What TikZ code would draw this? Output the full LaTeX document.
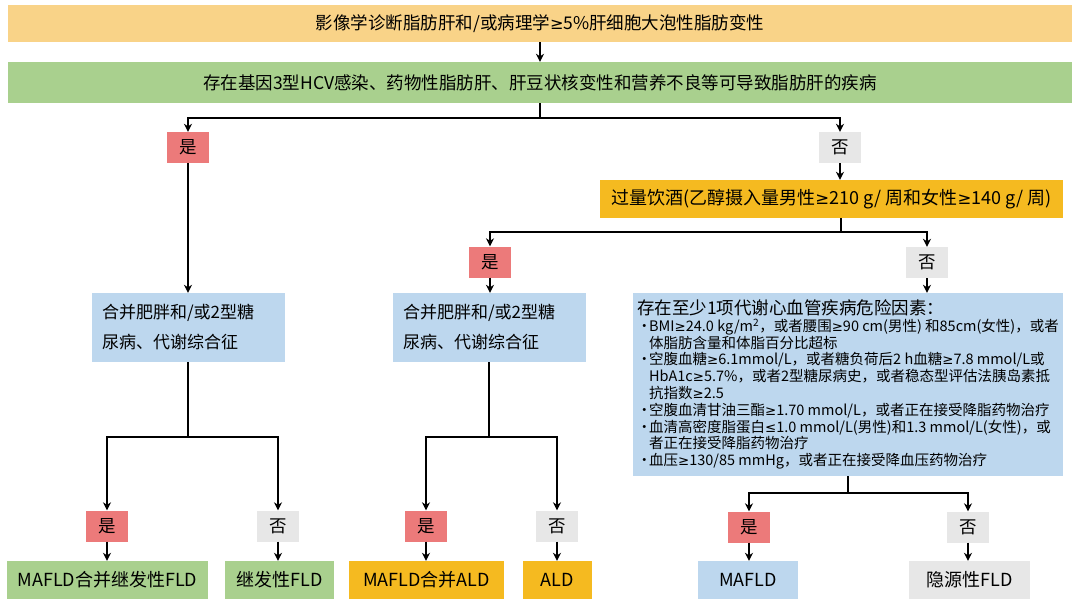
\documentclass[tikz,border=0pt]{standalone}
\usepackage{fontspec}
\setmainfont{Noto Sans CJK SC}
\newfontfamily\symfont[Scale=0.92]{DejaVu Sans}
\usepackage{tikz}
\usetikzlibrary{arrows.meta}
\definecolor{peach}{RGB}{249,211,136}
\definecolor{leaf}{RGB}{169,208,142}
\definecolor{gold}{RGB}{245,186,32}
\definecolor{rose}{RGB}{236,122,122}
\definecolor{mist}{RGB}{231,231,231}
\definecolor{sky}{RGB}{189,215,238}
\newcommand{\bul}{\makebox[12pt][l]{\textbullet}}
\newcommand{\ind}{\hspace*{12pt}}
\newcommand{\gesym}{{\symfont ≥}}
\newcommand{\lesym}{{\symfont ≤}}

\begin{document}
\begin{tikzpicture}[x=1pt,y=-1pt,
  flow/.style={rectangle, inner sep=0pt, font=\fontsize{17.5}{21}\selectfont},
  yesbox/.style={flow, fill=rose, minimum width=42pt, minimum height=31pt},
  nobox/.style={flow, fill=mist, minimum width=42pt, minimum height=31pt},
  endbox/.style={flow, minimum height=38pt, font=\fontsize{18}{21}\selectfont},
  condbox/.style={flow, fill=sky, text width=173pt, inner xsep=10pt, minimum height=69pt, align=left, font=\fontsize{17}{30}\selectfont},
  arr/.style={->,>={Stealth[length=8pt,width=8pt]},line width=1.6pt},
  ln/.style={line width=1.6pt}]
\useasboundingbox (0,0) rectangle (1080,606);

\node[flow, fill=peach, minimum width=1064pt, minimum height=37pt] (img) at (540,23.5) {影像学诊断脂肪肝和/或病理学\gesym 5\%肝细胞大泡性脂肪变性};
\node[flow, fill=leaf, minimum width=1064pt, minimum height=41pt] (cause) at (540,82.5) {存在基因3型HCV感染、药物性脂肪肝、肝豆状核变性和营养不良等可导致脂肪肝的疾病};
\node[yesbox] (yes1) at (188,147.5) {是};
\node[nobox] (no1) at (840,147.5) {否};
\node[flow, fill=gold, minimum width=463pt, minimum height=38pt, font=\fontsize{18}{21}\selectfont] (alc) at (831.5,199) {过量饮酒(乙醇摄入量男性\gesym 210 g/ 周和女性\gesym 140 g/ 周)};
\node[yesbox] (yes2) at (490,262) {是};
\node[nobox] (no2) at (927,262.5) {否};
\node[condbox] (cond1) at (188.5,327.5) {合并肥胖和/或2型糖\\尿病、代谢综合征};
\node[condbox] (cond2) at (489.5,327.5) {合并肥胖和/或2型糖\\尿病、代谢综合征};
\node[flow, fill=sky, minimum width=430pt, minimum height=183pt, align=left, font=\fontsize{14.5}{16.8}\selectfont] (risk) at (848,384.5) {{\fontsize{17.5}{16.8}\selectfont 存在至少1项代谢心血管疾病危险因素：}\\
\bul BMI\gesym 24.0 kg/m\textsuperscript{2}，或者腰围\gesym 90 cm(男性) 和85cm(女性)，或者\\
\ind 体脂肪含量和体脂百分比超标\\
\bul 空腹血糖\gesym 6.1mmol/L，或者糖负荷后2 h血糖\gesym 7.8 mmol/L或\\
\ind HbA1c\gesym 5.7\%，或者2型糖尿病史，或者稳态型评估法胰岛素抵\\
\ind 抗指数\gesym 2.5\\
\bul 空腹血清甘油三酯\gesym 1.70 mmol/L，或者正在接受降脂药物治疗\\
\bul 血清高密度脂蛋白\lesym 1.0 mmol/L(男性)和1.3 mmol/L(女性)，或\\
\ind 者正在接受降脂药物治疗\\
\bul 血压\gesym 130/85 mmHg，或者正在接受降血压药物治疗};
\node[yesbox] (yes3) at (107,526) {是};
\node[nobox] (no3) at (278,526) {否};
\node[yesbox] (yes4) at (426,526) {是};
\node[nobox] (no4) at (557,526) {否};
\node[yesbox] (yes5) at (749,527) {是};
\node[nobox] (no5) at (968,527) {否};
\node[endbox, fill=leaf, minimum width=201pt] (r1) at (107.5,580) {MAFLD合并继发性FLD};
\node[endbox, fill=leaf, minimum width=109pt] (r2) at (279.5,580) {继发性FLD};
\node[endbox, fill=gold, minimum width=155pt] (r3) at (426.5,580) {MAFLD合并ALD};
\node[endbox, fill=gold, minimum width=69pt] (r4) at (557.5,580) {ALD};
\node[endbox, fill=sky, minimum width=100pt] (r5) at (748,580) {MAFLD};
\node[endbox, fill=mist, minimum width=121pt] (r6) at (969.5,580) {隐源性FLD};

\coordinate (j1) at (540,118);
\coordinate (j2) at (841,232);
\coordinate (j3) at (188,437);
\coordinate (j4) at (489,437);
\coordinate (j5) at (848,493);

\draw[arr] (img) -- (cause);
\draw[ln] (cause) -- (j1);
\draw[arr] (j1) -| (yes1);
\draw[arr] (j1) -| (no1);
\draw[arr] (yes1) -- (yes1 |- cond1.north);
\draw[arr] (no1) -- (no1 |- alc.north);
\draw[ln] (j2 |- alc.south) -- (j2);
\draw[arr] (j2) -| (yes2);
\draw[arr] (j2) -| (no2);
\draw[arr] (yes2) -- (yes2 |- cond2.north);
\draw[arr] (no2) -- (no2 |- risk.north);
\draw[ln] (j3 |- cond1.south) -- (j3);
\draw[arr] (j3) -| (yes3);
\draw[arr] (j3) -| (no3);
\draw[ln] (j4 |- cond2.south) -- (j4);
\draw[arr] (j4) -| (yes4);
\draw[arr] (j4) -| (no4);
\draw[ln] (j5 |- risk.south) -- (j5);
\draw[arr] (j5) -| (yes5);
\draw[arr] (j5) -| (no5);
\draw[arr] (yes3) -- (yes3 |- r1.north);
\draw[arr] (no3) -- (no3 |- r2.north);
\draw[arr] (yes4) -- (yes4 |- r3.north);
\draw[arr] (no4) -- (no4 |- r4.north);
\draw[arr] (yes5) -- (yes5 |- r5.north);
\draw[arr] (no5) -- (no5 |- r6.north);
\end{tikzpicture}
\end{document}
